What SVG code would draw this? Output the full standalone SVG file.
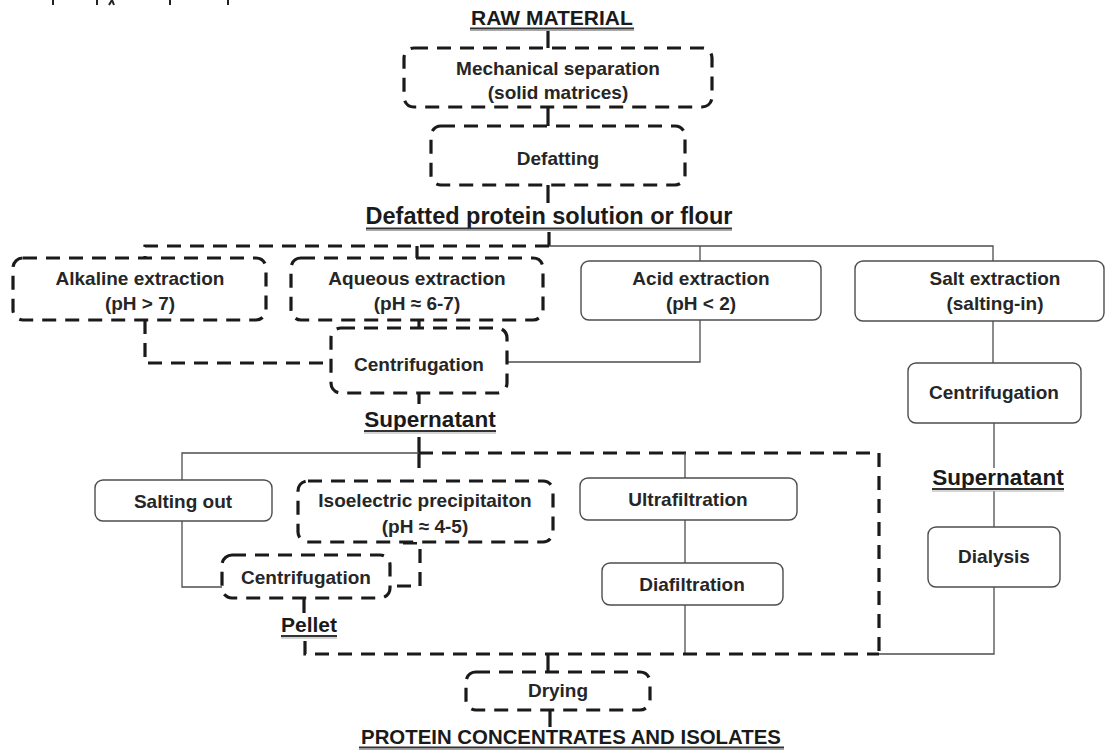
<svg xmlns="http://www.w3.org/2000/svg" width="1107" height="751" viewBox="0 0 1107 751">
<style>
.dbox{fill:#fff;stroke:#1a1a1a;stroke-width:3.2;stroke-dasharray:14 9}
.sbox{fill:#fff;stroke:#4d4d4d;stroke-width:1.4}
.dl{fill:none;stroke:#1a1a1a;stroke-width:3.2;stroke-dasharray:14 9}
.tk{fill:none;stroke:#1a1a1a;stroke-width:3.2}
.sl{fill:none;stroke:#4d4d4d;stroke-width:1.3}
.ul{stroke:#333;stroke-width:1.8}
.us{stroke:#aaa;stroke-width:1.2}
.t{font-family:"Liberation Sans",Arial,sans-serif;font-weight:bold;font-size:19px;fill:#262626;text-anchor:middle}
.h{font-family:"Liberation Sans",Arial,sans-serif;font-weight:bold;fill:#1a1a1a;text-anchor:middle}
.art{stroke:#222;stroke-width:2}
</style>
<rect width="1107" height="751" fill="#fff"/>
<g id="artifacts">
<line class="art" x1="53" y1="0" x2="53" y2="5"/>
<line class="art" x1="97" y1="0" x2="97" y2="5"/>
<path class="art" d="M109 5 L112 0 L114 5" fill="none"/>
<line class="art" x1="170" y1="0" x2="170" y2="5"/>
<line class="art" x1="228" y1="0" x2="228" y2="5"/>
</g>
<g id="connectors">
<line class="tk" x1="548" y1="30" x2="548" y2="48"/>
<line class="tk" x1="548" y1="107" x2="548" y2="126"/>
<line class="tk" x1="548" y1="185" x2="548" y2="203"/>
<path class="tk" d="M549 232 V246"/>
<path class="dl" d="M549 246 H145 V258"/>
<line class="tk" x1="417" y1="246" x2="417" y2="258"/>
<path class="sl" d="M549 246 H993 V261"/>
<line class="sl" x1="700" y1="246" x2="700" y2="261"/>
<path class="sl" d="M700 320 V362 H507"/>
<line class="tk" x1="419" y1="320" x2="419" y2="328"/>
<path class="dl" d="M145 320 V363 H331"/>
<line class="tk" x1="419" y1="393" x2="419" y2="404"/>
<line class="tk" x1="419" y1="437" x2="419" y2="468"/>
<path class="sl" d="M419 453 H182 V480"/>
<path class="dl" d="M419 453 H879 V654"/>
<line class="sl" x1="685" y1="453" x2="685" y2="478"/>
<line class="sl" x1="685" y1="520" x2="685" y2="563"/>
<line class="sl" x1="685" y1="605" x2="685" y2="654"/>
<path class="sl" d="M182 521 V587 H222"/>
<path class="dl" d="M403 543 H420 V586 H392"/>
<line class="tk" x1="304" y1="598" x2="304" y2="613"/>
<path class="dl" d="M305 641 V654 H879"/>
<path class="sl" d="M879 654 H994 V587"/>
<line class="tk" x1="548" y1="654" x2="548" y2="672"/>
<line class="tk" x1="550" y1="710" x2="550" y2="727"/>
<line class="sl" x1="993" y1="321" x2="993" y2="363"/>
<line class="sl" x1="994" y1="423" x2="994" y2="468"/>
<line class="sl" x1="994" y1="491" x2="994" y2="527"/>
</g>
<g id="raw-material">
<text class="h" x="552" y="25" font-size="21">RAW MATERIAL</text>
<line class="ul" x1="470" y1="28.5" x2="634" y2="28.5"/>
<line class="us" x1="470" y1="30.5" x2="634" y2="30.5"/>
</g>
<g id="mechanical-separation">
<rect class="dbox" x="404" y="48" width="308" height="59" rx="10"/>
<text class="t" x="558" y="75">Mechanical separation</text>
<text class="t" x="558" y="99">(solid matrices)</text>
</g>
<g id="defatting">
<rect class="dbox" x="431" y="126" width="254" height="59" rx="10"/>
<text class="t" x="558" y="165">Defatting</text>
</g>
<g id="defatted-solution">
<text class="h" x="549" y="224" font-size="23.5">Defatted protein solution or flour</text>
<line class="ul" x1="366" y1="228.5" x2="732" y2="228.5"/>
<line class="us" x1="366" y1="230.5" x2="732" y2="230.5"/>
</g>
<g id="alkaline-extraction">
<rect class="dbox" x="13" y="258" width="253" height="62" rx="10"/>
<text class="t" x="140" y="285">Alkaline extraction</text>
<text class="t" x="140" y="310">(pH &gt; 7)</text>
</g>
<g id="aqueous-extraction">
<rect class="dbox" x="291" y="258" width="252" height="62" rx="10"/>
<text class="t" x="417" y="285">Aqueous extraction</text>
<text class="t" x="417" y="310">(pH ≈ 6-7)</text>
</g>
<g id="acid-extraction">
<rect class="sbox" x="581" y="261" width="240" height="59" rx="8"/>
<text class="t" x="701" y="285">Acid extraction</text>
<text class="t" x="701" y="310">(pH &lt; 2)</text>
</g>
<g id="salt-extraction">
<rect class="sbox" x="855" y="261" width="249" height="60" rx="8"/>
<text class="t" x="995" y="285">Salt extraction</text>
<text class="t" x="995" y="310">(salting-in)</text>
</g>
<g id="centrifugation-1">
<rect class="dbox" x="331" y="328" width="176" height="65" rx="10"/>
<text class="t" x="419" y="371">Centrifugation</text>
</g>
<g id="supernatant-1">
<text class="h" x="430" y="427" font-size="22.5">Supernatant</text>
<line class="ul" x1="364" y1="431" x2="496" y2="431"/>
<line class="us" x1="364" y1="433" x2="496" y2="433"/>
</g>
<g id="centrifugation-salt">
<rect class="sbox" x="908" y="363" width="173" height="60" rx="8"/>
<text class="t" x="994" y="399">Centrifugation</text>
</g>
<g id="supernatant-2">
<text class="h" x="998" y="485" font-size="22.5">Supernatant</text>
<line class="ul" x1="932" y1="489" x2="1064" y2="489"/>
<line class="us" x1="932" y1="491" x2="1064" y2="491"/>
</g>
<g id="dialysis">
<rect class="sbox" x="928" y="527" width="132" height="60" rx="8"/>
<text class="t" x="994" y="563">Dialysis</text>
</g>
<g id="salting-out">
<rect class="sbox" x="95" y="480" width="177" height="41" rx="8"/>
<text class="t" x="183" y="508">Salting out</text>
</g>
<g id="isoelectric-precipitation">
<rect class="dbox" x="298" y="481" width="255" height="61" rx="10"/>
<text class="t" x="425" y="507">Isoelectric precipitaiton</text>
<text class="t" x="425" y="533">(pH ≈ 4-5)</text>
</g>
<g id="ultrafiltration">
<rect class="sbox" x="580" y="478" width="217" height="42" rx="8"/>
<text class="t" x="688" y="506">Ultrafiltration</text>
</g>
<g id="diafiltration">
<rect class="sbox" x="602" y="563" width="181" height="42" rx="8"/>
<text class="t" x="692" y="591">Diafiltration</text>
</g>
<g id="centrifugation-2">
<rect class="dbox" x="222" y="555" width="168" height="43" rx="10"/>
<text class="t" x="306" y="584">Centrifugation</text>
</g>
<g id="pellet">
<text class="h" x="309" y="632" font-size="21">Pellet</text>
<line class="ul" x1="281" y1="636" x2="337" y2="636"/>
<line class="us" x1="281" y1="638" x2="337" y2="638"/>
</g>
<g id="drying">
<rect class="dbox" x="466" y="672" width="184" height="38" rx="10"/>
<text class="t" x="558" y="697">Drying</text>
</g>
<g id="protein-concentrates">
<text class="h" x="571" y="744" font-size="20.4">PROTEIN CONCENTRATES AND ISOLATES</text>
<line class="ul" x1="359" y1="747.5" x2="784" y2="747.5"/>
<line class="us" x1="359" y1="749.5" x2="784" y2="749.5"/>
</g>
</svg>
